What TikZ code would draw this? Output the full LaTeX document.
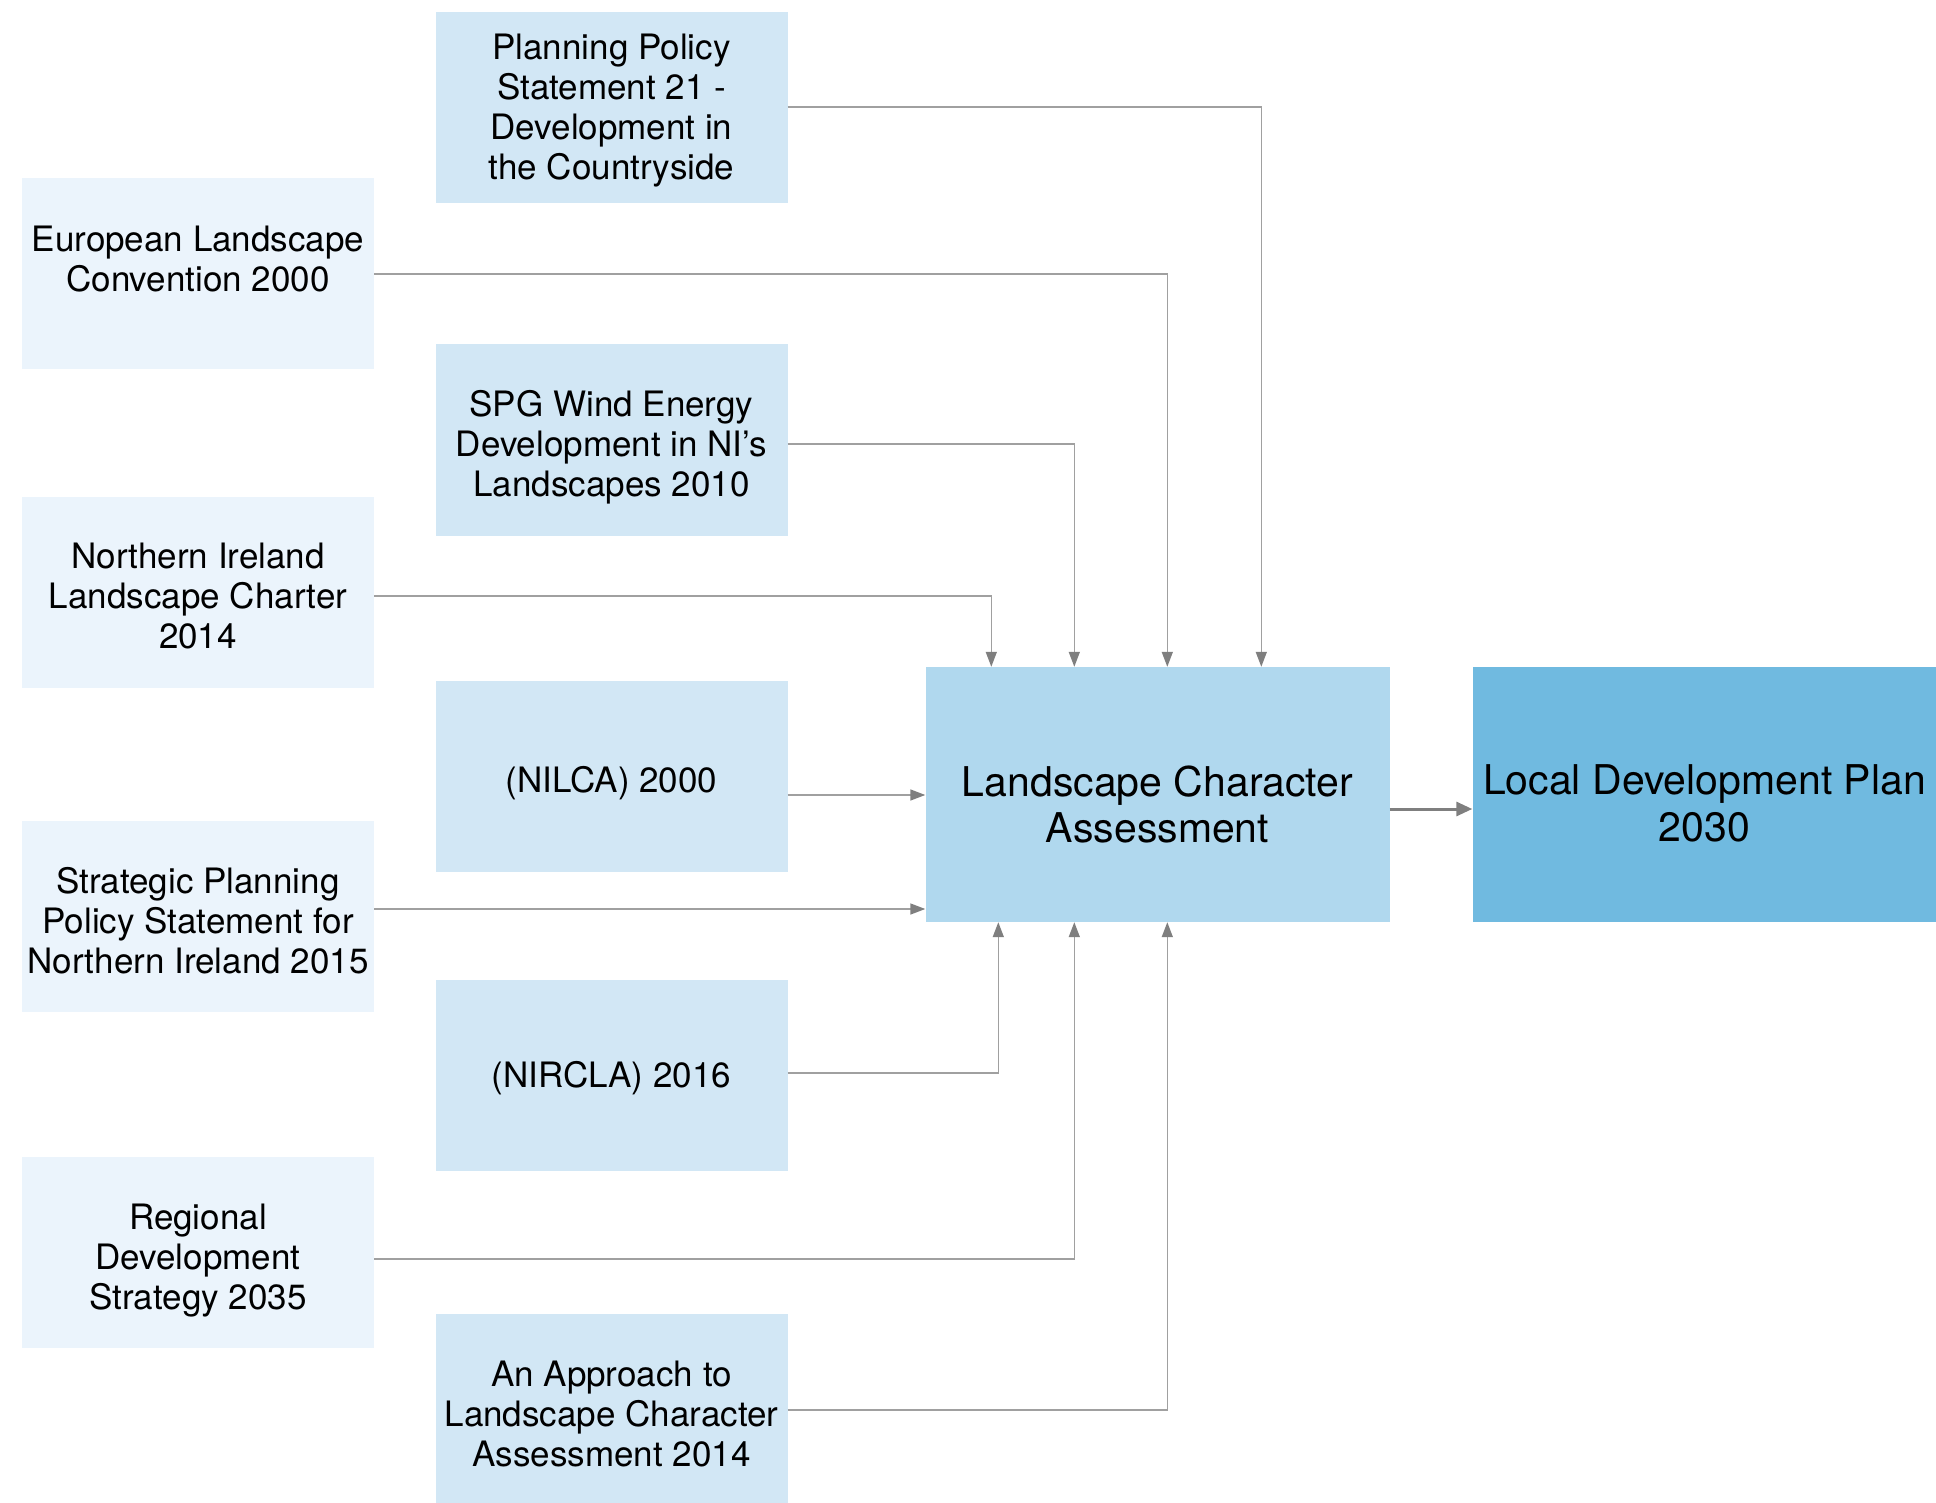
\documentclass[tikz,border=0pt]{standalone}
\usepackage{fontspec}
\setmainfont{TeX Gyre Heros}
\usetikzlibrary{arrows.meta,calc}
\definecolor{leftfill}{HTML}{EBF4FC}
\definecolor{midfill}{HTML}{D2E7F5}
\definecolor{lcafill}{HTML}{B0D8EE}
\definecolor{ldpfill}{HTML}{70BAE0}
\definecolor{linegray}{HTML}{A0A0A0}
\definecolor{headgray}{HTML}{7F7F7F}
\tikzset{
  srcbox/.style={rectangle, inner sep=0pt, minimum width=352pt, minimum height=191pt},
  leftbox/.style={srcbox, fill=leftfill},
  midbox/.style={srcbox, fill=midfill},
  bigbox/.style={rectangle, inner sep=0pt, minimum width=464pt, minimum height=255pt},
  srctext/.style={inner sep=0pt, align=center, font=\fontsize{35}{40}\selectfont},
  bigtext/.style={inner sep=0pt, align=center, font=\fontsize{41}{46.5}\selectfont},
  conn/.style={draw=linegray, line width=1.5pt, -{Triangle[length=15pt,width=11pt,fill=headgray,color=headgray]}},
  mainconn/.style={draw=headgray, line width=3pt, -{Triangle[length=16pt,width=14pt,fill=headgray,color=headgray]}},
}
\begin{document}
\begin{tikzpicture}[x=1pt,y=-1pt]
\useasboundingbox (0,0) rectangle (1936,1503);
% left column
\node[leftbox] (eur) at (198,273.5) {};
\node[leftbox] (nic) at (198,592) {};
\node[leftbox] (spp) at (198,916.5) {};
\node[leftbox] (rds) at (198,1252.5) {};
\node[srctext] (eur-t) at ([yshift=-5pt]eur.center) {European Landscape\\Convention 2000\\\mbox{}};
\node[srctext] (nic-t) at ([yshift=-4pt]nic.center) {Northern Ireland\\Landscape Charter\\2014};
\node[srctext] (spp-t) at ([yshift=-4pt]spp.center) {Strategic Planning\\Policy Statement for\\Northern Ireland 2015};
\node[srctext] (rds-t) at ([yshift=-8pt]rds.center) {Regional\\Development\\Strategy 2035};
% middle column
\node[midbox] (pps) at (611.5,108) {};
\node[midbox] (spg) at (611.5,440) {};
\node[midbox] (nilca) at (611.5,776.5) {};
\node[midbox] (nircla) at (611.5,1075) {};
\node[midbox, minimum height=189pt] (appr) at (611.5,1408.5) {};
\node[srctext] (pps-t) at ([yshift=-3pt]pps.center) {Planning Policy\\Statement 21 -\\Development in\\the Countryside};
\node[srctext] (spg-t) at ([yshift=-7pt]spg.center) {SPG Wind Energy\\Development in NI’s\\Landscapes 2010};
\node[srctext] (nilca-t) at ([yshift=-7pt]nilca.center) {(NILCA) 2000};
\node[srctext] (nircla-t) at ([yshift=-3pt]nircla.center) {(NIRCLA) 2016};
\node[srctext] (appr-t) at ([yshift=-5pt]appr.center) {An Approach to\\Landscape Character\\Assessment 2014};
% main boxes
\node[bigbox, fill=lcafill] (lca) at (1157.5,794.5) {};
\node[bigbox, fill=ldpfill] (ldp) at (1704.5,794.5) {};
\node[bigtext] (lca-t) at ([yshift=-10pt]lca.center) {Landscape Character\\Assessment};
\node[bigtext] (ldp-t) at ([yshift=-9pt]ldp.center) {Local Development Plan\\2030};
% connectors from above
\draw[conn] (pps.east |- 0,107) -| ($(lca.north west)+(336,0)$);
\draw[conn] (eur.east |- 0,274) -| ($(lca.north west)+(242,0)$);
\draw[conn] (spg.east |- 0,444) -| ($(lca.north west)+(149,0)$);
\draw[conn] (nic.east |- 0,596) -| ($(lca.north west)+(66,0)$);
% horizontal connectors
\draw[conn] (nilca.east |- 0,795) -- (lca.west |- 0,795);
\draw[conn] (spp.east |- 0,909) -- (lca.west |- 0,909);
% connectors from below
\draw[conn] (nircla.east |- 0,1073) -| ($(lca.south west)+(73,0)$);
\draw[conn] (rds.east |- 0,1259) -| ($(lca.south west)+(149,0)$);
\draw[conn] (appr.east |- 0,1410) -| ($(lca.south west)+(242,0)$);
% main arrow
\draw[mainconn] (lca.east |- 0,809) -- (ldp.west |- 0,809);
\end{tikzpicture}
\end{document}
